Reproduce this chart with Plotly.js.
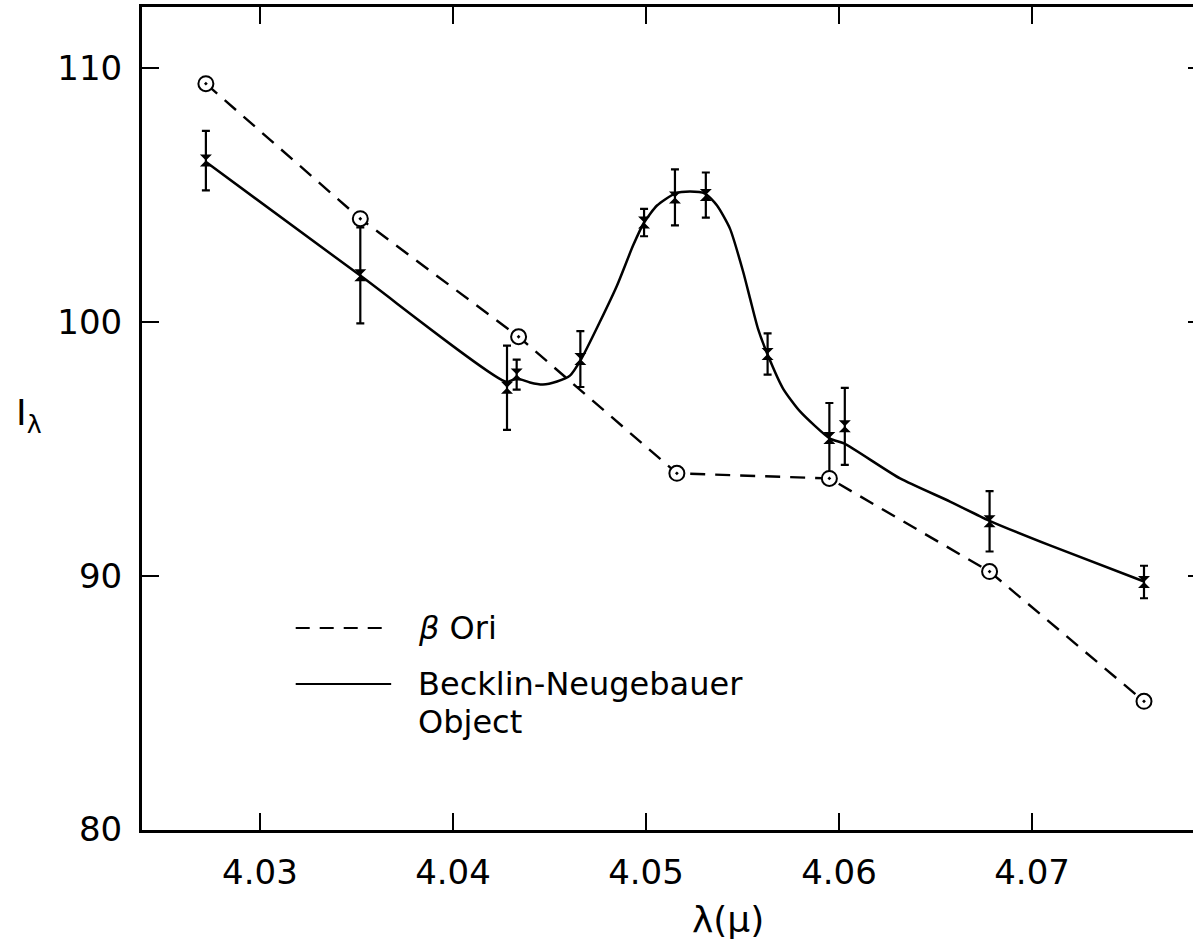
<!DOCTYPE html>
<html>
<head>
<meta charset="utf-8">
<script src="https://cdn.plot.ly/plotly-3.0.1.min.js"></script>
<style>
html, body { margin: 0; padding: 0; overflow: hidden; background: #fff; }
#chart { width: 1230px; height: 950px; }
</style>
</head>
<body>
<div id="chart"></div>
<script>
// beta Ori (dashed line, open circles with centre dot)
const oriWavelength = [4.0272, 4.0352, 4.0434, 4.0516, 4.0595, 4.0678, 4.0758];
const oriIntensity  = [109.38, 104.06, 99.41, 94.03, 93.83, 90.16, 85.05];

// Becklin-Neugebauer object measurements with error bars
const bnWavelength = [4.0272, 4.0352, 4.0428, 4.0433, 4.0466, 4.0499, 4.0515, 4.0531, 4.0563, 4.0595, 4.0603, 4.0678, 4.0758];
const bnIntensity  = [106.35, 101.83, 97.4, 97.92, 98.53, 103.91, 104.9, 104.99, 98.73, 95.42, 95.88, 92.14, 89.75];
const bnError      = [1.17, 1.89, 1.66, 0.59, 1.1, 0.54, 1.1, 0.89, 0.81, 1.38, 1.52, 1.19, 0.64];

// hand-drawn smooth curve through the BN object points
const fitWavelength = [4.02719, 4.03518, 4.04275, 4.04332, 4.04399, 4.04466, 4.04539, 4.04606, 4.04663, 4.04762, 4.04850, 4.04933, 4.04990, 4.05057, 4.05150, 4.05228, 4.05306, 4.05368, 4.05435, 4.05503, 4.05539, 4.05580, 4.05632, 4.05710, 4.05798, 4.05953, 4.06026, 4.06316, 4.06575, 4.06777, 4.07093, 4.07580];
const fitIntensity  = [106.30, 101.83, 97.64, 97.77, 97.61, 97.53, 97.65, 97.88, 98.51, 100.01, 101.43, 103.00, 103.91, 104.58, 105.05, 105.13, 105.05, 104.58, 103.67, 101.98, 100.92, 99.73, 98.67, 97.37, 96.47, 95.40, 95.21, 93.83, 92.92, 92.17, 91.19, 89.77];

// axes
const xTickVals = [4.03, 4.04, 4.05, 4.06, 4.07];
const xTickText = ['4.03', '4.04', '4.05', '4.06', '4.07'];
const yTickVals = [80, 90, 100, 110];
const yTickText = ['80', '90', '100', '110'];

// legend labels
const legendOri = '<i>β</i> Ori';
const legendBN1 = 'Becklin-Neugebauer';
const legendBN2 = 'Object';
const xTitle = 'λ(μ)';
const yTitle = 'I<sub>λ</sub>';

const FONT = 'DejaVu Sans, sans-serif';

const traces = [
  {
    x: oriWavelength, y: oriIntensity, type: 'scatter', mode: 'lines',
    line: { color: '#000', width: 2.4, dash: '15px,10px' },
    hoverinfo: 'skip', showlegend: false
  },
  {
    x: fitWavelength, y: fitIntensity, type: 'scatter', mode: 'lines',
    line: { color: '#000', width: 2.5, shape: 'spline', smoothing: 0.6 },
    hoverinfo: 'skip', showlegend: false
  },
  {
    x: bnWavelength, y: bnIntensity, type: 'scatter', mode: 'markers',
    marker: { symbol: 'hourglass', size: 12, color: '#000', line: { width: 0 } },
    error_y: { type: 'data', array: bnError, visible: true, color: '#000', thickness: 2.2, width: 4 },
    showlegend: false
  },
  {
    x: oriWavelength, y: oriIntensity, type: 'scatter', mode: 'markers',
    marker: { symbol: 'circle-dot', size: 15, color: '#fff', line: { color: '#000', width: 2 } },
    showlegend: false
  }
];

const layout = {
  width: 1230, height: 950,
  margin: { l: 142, r: 25, t: 7, b: 120 },
  paper_bgcolor: '#fff', plot_bgcolor: '#fff',
  font: { family: FONT, color: '#000', size: 34 },
  showlegend: false,
  xaxis: {
    range: [4.02389, 4.07896],
    tickmode: 'array', tickvals: xTickVals, ticktext: xTickText,
    ticks: 'inside', ticklen: 17, tickwidth: 2, tickcolor: '#000',
    showline: true, linewidth: 3, linecolor: '#000', mirror: 'ticks',
    showgrid: false, zeroline: false,
    ticklabelstandoff: 10,
    tickfont: { family: FONT, size: 34, color: '#000' }
  },
  yaxis: {
    range: [79.98, 112.4],
    tickmode: 'array', tickvals: yTickVals, ticktext: yTickText,
    ticks: 'inside', ticklen: 17, tickwidth: 2, tickcolor: '#000',
    showline: true, linewidth: 3, linecolor: '#000', mirror: 'ticks',
    showgrid: false, zeroline: false,
    ticklabelstandoff: 10,
    tickfont: { family: FONT, size: 34, color: '#000' }
  },
  shapes: [
    { type: 'line', xref: 'paper', yref: 'paper', x0: 0.1446, x1: 0.2344, y0: 0.2454, y1: 0.2454,
      line: { color: '#000', width: 2, dash: '14px,10px' } },
    { type: 'line', xref: 'paper', yref: 'paper', x0: 0.1446, x1: 0.2344, y0: 0.1774, y1: 0.1774,
      line: { color: '#000', width: 2 } }
  ],
  annotations: [
    { text: legendOri, xref: 'paper', yref: 'paper', x: 0.2580, y: 0.2454, xanchor: 'left', yanchor: 'middle',
      showarrow: false, font: { family: FONT, size: 32, color: '#000' } },
    { text: legendBN1, xref: 'paper', yref: 'paper', x: 0.2580, y: 0.1774, xanchor: 'left', yanchor: 'middle',
      showarrow: false, font: { family: FONT, size: 32, color: '#000' } },
    { text: legendBN2, xref: 'paper', yref: 'paper', x: 0.2580, y: 0.1312, xanchor: 'left', yanchor: 'middle',
      showarrow: false, font: { family: FONT, size: 32, color: '#000' } },
    { text: xTitle, xref: 'paper', yref: 'paper', x: 0.551, y: -0.109, xanchor: 'center', yanchor: 'middle',
      showarrow: false, font: { family: FONT, size: 36, color: '#000' } },
    { text: yTitle, xref: 'paper', yref: 'paper', x: -0.12, y: 0.504, xanchor: 'left', yanchor: 'middle',
      showarrow: false, font: { family: FONT, size: 36, color: '#000' } }
  ]
};

Plotly.newPlot('chart', traces, layout, { displayModeBar: false, staticPlot: true });
</script>
</body>
</html>
